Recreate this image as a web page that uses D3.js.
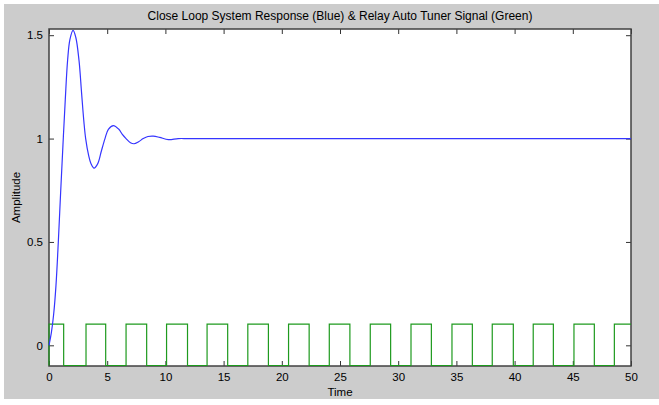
<!DOCTYPE html>
<html>
<head>
<meta charset="utf-8">
<script src="https://cdn.jsdelivr.net/npm/d3@7"></script>
<style>
  html, body { margin: 0; padding: 0; background: #fff; }
  svg { display: block; font-family: "Liberation Sans", Arial, sans-serif; }
  .axis path { display: none; }
  .axis line { stroke: #333; }
  .axis text { font-size: 11.5px; fill: #000; }
</style>
</head>
<body>
<svg width="659" height="405"></svg>
<script>
// step response of the closed loop (time, amplitude)
var respTime = [0, 0.2, 0.4, 0.6, 0.8, 1.0, 1.2, 1.4, 1.6, 1.8, 2.07, 2.3, 2.58, 2.8, 3.0, 3.15,
                3.4, 3.6, 3.87, 4.2, 4.5, 4.81, 5.1, 5.53, 6.0, 6.3, 6.62, 7.0, 7.3, 7.7,
                8.1, 8.5, 8.96, 9.5, 10.25, 11.1, 12, 20, 30, 40, 50];
var respAmp  = [0, 0.06, 0.15, 0.29, 0.5, 0.74, 0.97, 1.19, 1.38, 1.48, 1.523, 1.49, 1.377, 1.22, 1.08, 1.0,
                0.92, 0.88, 0.857, 0.88, 0.94, 1.0, 1.045, 1.063, 1.045, 1.02, 1.0, 0.98, 0.975, 0.985,
                1.0, 1.01, 1.012, 1.006, 0.995, 1.0, 1.0, 1.0, 1.0, 1.0, 1.0];

// relay output switching instants
var relayRise = [0, 3.18, 6.62, 10.1, 13.58, 17.08, 20.58, 24.08, 27.6, 31.1, 34.62, 38.08, 41.6, 45.1, 48.57];
var relayFall = [1.26, 4.87, 8.39, 11.9, 15.35, 18.85, 22.35, 25.85, 29.35, 32.85, 36.37, 39.89, 43.33, 46.85];
var relayHigh = 0.1, relayLow = -0.1;

var xTicks = [0, 5, 10, 15, 20, 25, 30, 35, 40, 45, 50];
var yTicks = [0, 0.5, 1, 1.5];

var svg = d3.select("svg"),
    margin = {top: 29, right: 28, bottom: 39, left: 49},
    width = +svg.attr("width") - margin.left - margin.right,
    height = +svg.attr("height") - margin.top - margin.bottom;

// figure background
svg.append("rect")
    .attr("x", 4).attr("y", 4)
    .attr("width", 655).attr("height", 395)
    .attr("fill", "#cccccc");

var x = d3.scaleLinear().domain([0, 50]).range([0, width]),
    y = d3.scaleLinear().domain([-0.1, 1.53]).range([height, 0]);

var g = svg.append("g")
    .attr("transform", "translate(" + margin.left + "," + margin.top + ")");

g.append("rect")
    .attr("width", width).attr("height", height)
    .attr("fill", "#fff");

g.append("clipPath").attr("id", "clip")
  .append("rect").attr("x", -1).attr("y", -1).attr("width", width + 2).attr("height", height + 2);

// relay signal
var relay = [[0, relayLow]];
relayRise.forEach(function(t, i) {
    relay.push([t, relayHigh]);
    if (i < relayFall.length) relay.push([relayFall[i], relayLow]);
});
relay.push([50, relayHigh]);

// axes, ticks pointing inward on all four sides
g.append("g")
    .attr("class", "axis axis--x")
    .attr("transform", "translate(0," + height + ")")
    .call(d3.axisBottom(x).tickValues(xTicks).tickSizeInner(-5).tickSizeOuter(0).tickPadding(7));

g.append("g")
    .attr("class", "axis")
    .call(d3.axisTop(x).tickValues(xTicks).tickSizeInner(-5).tickSizeOuter(0).tickFormat(""));

g.append("g")
    .attr("class", "axis axis--y")
    .call(d3.axisLeft(y).tickValues(yTicks).tickSizeInner(-5).tickSizeOuter(0).tickPadding(6)
        .tickFormat(function(d) { return d; }));

g.append("g")
    .attr("class", "axis")
    .attr("transform", "translate(" + width + ",0)")
    .call(d3.axisRight(y).tickValues(yTicks).tickSizeInner(-5).tickSizeOuter(0).tickFormat(""));

g.append("rect")
    .attr("width", width).attr("height", height)
    .attr("fill", "none")
    .attr("stroke", "#404040")
    .attr("stroke-width", 1.5);

var plot = g.append("g").attr("clip-path", "url(#clip)");

plot.append("path")
    .datum(relay)
    .attr("fill", "none")
    .attr("stroke", "#1e9a1e")
    .attr("stroke-width", 1.2)
    .attr("d", d3.line()
        .x(function(d) { return x(d[0]); })
        .y(function(d) { return y(d[1]) - 0.5; })
        .curve(d3.curveStepAfter));

plot.append("path")
    .datum(respTime.map(function(t, i) { return [t, respAmp[i]]; }))
    .attr("fill", "none")
    .attr("stroke", "#3535ff")
    .attr("stroke-width", 1.2)
    .attr("d", d3.line()
        .x(function(d) { return x(d[0]); })
        .y(function(d) { return y(d[1]); })
        .curve(d3.curveCatmullRom));

svg.append("text")
    .attr("x", margin.left + width / 2)
    .attr("y", 20)
    .attr("text-anchor", "middle")
    .style("font-size", "12px")
    .text("Close Loop System Response (Blue) & Relay Auto Tuner Signal (Green)");

svg.append("text")
    .attr("x", margin.left + width / 2)
    .attr("y", 396)
    .attr("text-anchor", "middle")
    .style("font-size", "11.5px")
    .text("Time");

svg.append("text")
    .attr("transform", "translate(20," + (margin.top + height / 2) + ") rotate(-90)")
    .attr("text-anchor", "middle")
    .style("font-size", "11.5px")
    .text("Amplitude");
</script>
</body>
</html>
